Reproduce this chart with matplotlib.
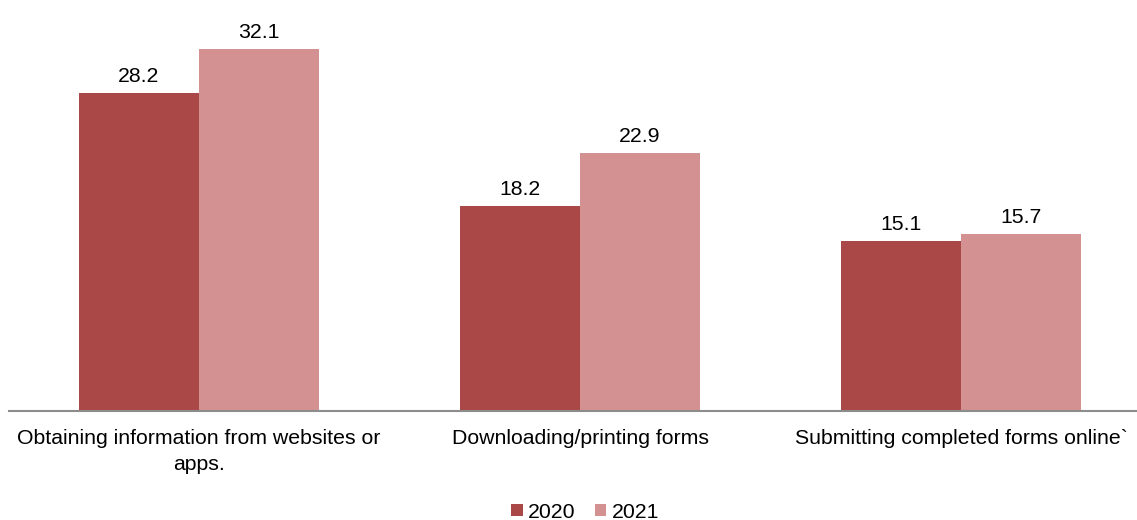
import matplotlib
matplotlib.use("Agg")
import matplotlib.pyplot as plt
import numpy as np

categories = ["Obtaining information from websites or\napps.", "Downloading/printing forms", "Submitting completed forms online`"]
series_names = ["2020", "2021"]
values_2020 = [28.2, 18.2, 15.1]
values_2021 = [32.1, 22.9, 15.7]
colors = ["#A94846", "#D39291"]

plt.rcParams['font.family'] = ['Liberation Sans', 'DejaVu Sans']
FS = 15.3

fig = plt.figure(figsize=(11.37, 5.2), dpi=100)
W, H = 1137, 520
left, right = 8.5, 1151.5
bottom, top = 411, 5
ax = fig.add_axes([left / W, 1 - bottom / H, (right - left) / W, (bottom - top) / H])

x = np.arange(len(categories))
bw = 0.315
b1 = ax.bar(x - bw / 2, values_2020, bw, color=colors[0], label=series_names[0])
b2 = ax.bar(x + bw / 2, values_2021, bw, color=colors[1], label=series_names[1])

for bars, vals in ((b1, values_2020), (b2, values_2021)):
    for r, v in zip(bars, vals):
        ax.annotate(f"{v:.1f}", (r.get_x() + r.get_width() / 2, v), xytext=(0, 5),
                    textcoords="offset points", ha="center", va="bottom", fontsize=FS)

ax.set_xlim(-0.5, 2.5)
ax.set_ylim(0, 36)
ax.set_xticks(x)
ax.set_xticklabels(categories, fontsize=FS, linespacing=1.45)
ax.tick_params(axis='x', length=0, pad=13)
ax.set_yticks([])
for s in ("top", "right", "left"):
    ax.spines[s].set_visible(False)
ax.spines["bottom"].set_color("#8C8C8C")
ax.spines["bottom"].set_linewidth(1.5)

fig.legend(handles=[b1, b2], labels=series_names, loc="center", bbox_to_anchor=(585 / W, 1 - 512 / H),
           ncol=2, frameon=False, fontsize=FS, handlelength=0.55, handleheight=0.55,
           handletextpad=0.25, columnspacing=0.9)

fig.savefig("out.png", dpi=100)
